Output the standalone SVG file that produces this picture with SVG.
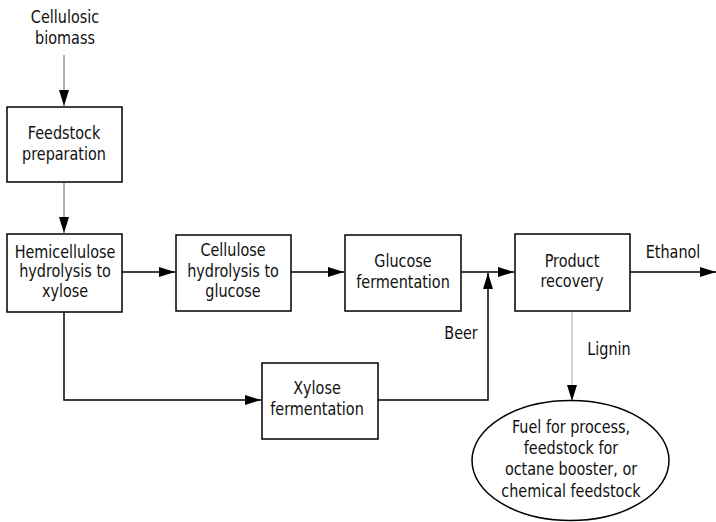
<svg xmlns="http://www.w3.org/2000/svg" width="716" height="522" viewBox="0 0 716 522">
<defs>
<marker id="ah" viewBox="0 0 16 10" refX="16" refY="5" markerWidth="16" markerHeight="10" markerUnits="userSpaceOnUse" orient="auto">
<path d="M0,0 L16,5 L0,10 z" fill="#000"/>
</marker>
<style>
text{font-family:"DejaVu Sans Condensed","DejaVu Sans",sans-serif;font-stretch:condensed;font-size:18px;fill:#111;text-anchor:middle}
.box{fill:#fff;stroke:#000;stroke-width:1.5}
.ln{fill:none;stroke:#000;stroke-width:1.5}
.thin{fill:none;stroke:#666;stroke-width:1}
.lt{fill:none;stroke:#aaa;stroke-width:1}
</style>
</defs>
<rect width="716" height="522" fill="#fff"/>
<g id="connectors">
<line class="thin" x1="64" y1="55" x2="64" y2="106" marker-end="url(#ah)"/>
<line class="thin" x1="64" y1="183" x2="64" y2="233" marker-end="url(#ah)"/>
<line class="ln" x1="122" y1="272" x2="175" y2="272" marker-end="url(#ah)"/>
<line class="ln" x1="291" y1="272" x2="344" y2="272" marker-end="url(#ah)"/>
<line class="ln" x1="461" y1="272" x2="514" y2="272" marker-end="url(#ah)"/>
<line class="ln" x1="630" y1="272" x2="716" y2="272" marker-end="url(#ah)"/>
<polyline class="ln" points="64,312 64,400 261,400" marker-end="url(#ah)"/>
<polyline class="ln" points="378,400 488,400 488,273" marker-end="url(#ah)"/>
<line class="lt" x1="572" y1="311" x2="572" y2="401" marker-end="url(#ah)"/>
</g>
<g id="n_biomass" transform="translate(65,0) scale(0.89,1)"><text x="0" y="23">Cellulosic</text><text x="0" y="44">biomass</text></g>
<g id="n_feedstock"><rect class="box" x="7" y="107" width="115" height="75"/><g transform="translate(64,0) scale(0.89,1)"><text x="0" y="139">Feedstock</text><text x="0" y="160">preparation</text></g></g>
<g id="n_hemi"><rect class="box" x="7" y="234" width="115" height="78"/><g transform="translate(65,0) scale(0.89,1)"><text x="0" y="258">Hemicellulose</text><text x="0" y="277">hydrolysis to</text><text x="0" y="297">xylose</text></g></g>
<g id="n_cell"><rect class="box" x="176" y="235" width="115" height="76"/><g transform="translate(233,0) scale(0.89,1)"><text x="0" y="256">Cellulose</text><text x="0" y="277">hydrolysis to</text><text x="0" y="297">glucose</text></g></g>
<g id="n_gluc"><rect class="box" x="345" y="235" width="116" height="76"/><g transform="translate(403,0) scale(0.89,1)"><text x="0" y="267">Glucose</text><text x="0" y="288">fermentation</text></g></g>
<g id="n_prod"><rect class="box" x="515" y="234" width="115" height="77"/><g transform="translate(572,0) scale(0.89,1)"><text x="0" y="267">Product</text><text x="0" y="287">recovery</text></g></g>
<g id="n_xyl"><rect class="box" x="262" y="363" width="116" height="76"/><g transform="translate(317,0) scale(0.89,1)"><text x="0" y="394">Xylose</text><text x="0" y="415">fermentation</text></g></g>
<g id="n_fuel"><ellipse class="box" cx="570.5" cy="460.5" rx="98.5" ry="60"/><g transform="translate(571,0) scale(0.89,1)"><text x="0" y="433">Fuel for process,</text><text x="0" y="454">feedstock for</text><text x="0" y="475">octane booster, or</text><text x="0" y="497">chemical feedstock</text></g></g>
<g id="labels"><g transform="translate(673,0) scale(0.89,1)"><text x="0" y="258">Ethanol</text></g><g transform="translate(461,0) scale(0.89,1)"><text x="0" y="339">Beer</text></g><g transform="translate(609,0) scale(0.89,1)"><text x="0" y="355">Lignin</text></g></g>
</svg>
